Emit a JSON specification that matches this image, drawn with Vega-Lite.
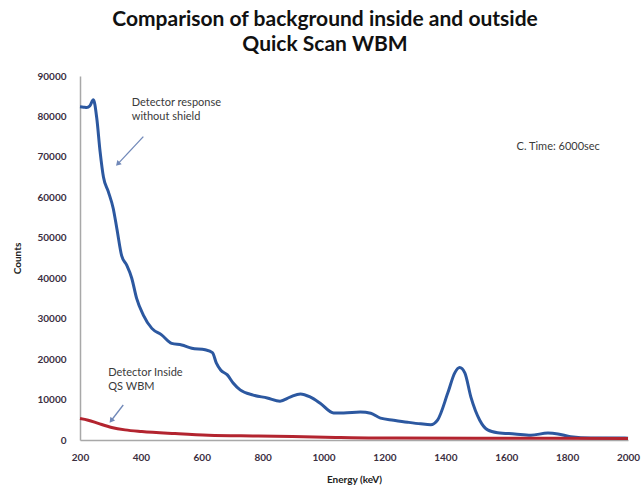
{
  "$schema": "https://vega.github.io/schema/vega-lite/v6.json",
  "autosize": "none",
  "width": 548,
  "height": 364,
  "padding": {"left": 80, "top": 76, "right": 14, "bottom": 50},
  "background": "white",
  "config": {
    "view": {"stroke": null},
    "font": "Lato"
  },
  "title": {
    "text": ["Comparison of background inside and outside", "Quick Scan WBM"],
    "font": "Lato",
    "fontSize": 21,
    "fontWeight": "bold",
    "color": "#111111",
    "anchor": "middle",
    "frame": "group",
    "dx": -29,
    "offset": 16,
    "lineHeight": 25
  },
  "datasets": {
    "spectra": [
      {"energy": 200, "counts": 82400, "series": "Without shield"},
      {"energy": 212, "counts": 82300, "series": "Without shield"},
      {"energy": 222, "counts": 82200, "series": "Without shield"},
      {"energy": 232, "counts": 82600, "series": "Without shield"},
      {"energy": 244, "counts": 84100, "series": "Without shield"},
      {"energy": 255, "counts": 79600, "series": "Without shield"},
      {"energy": 266, "counts": 71300, "series": "Without shield"},
      {"energy": 277, "counts": 65000, "series": "Without shield"},
      {"energy": 293, "counts": 61400, "series": "Without shield"},
      {"energy": 309, "counts": 57300, "series": "Without shield"},
      {"energy": 321, "counts": 52300, "series": "Without shield"},
      {"energy": 337, "counts": 45500, "series": "Without shield"},
      {"energy": 353, "counts": 43300, "series": "Without shield"},
      {"energy": 370, "counts": 40000, "series": "Without shield"},
      {"energy": 386, "counts": 35000, "series": "Without shield"},
      {"energy": 408, "counts": 30900, "series": "Without shield"},
      {"energy": 436, "counts": 27600, "series": "Without shield"},
      {"energy": 468, "counts": 26000, "series": "Without shield"},
      {"energy": 501, "counts": 23900, "series": "Without shield"},
      {"energy": 534, "counts": 23500, "series": "Without shield"},
      {"energy": 567, "counts": 22700, "series": "Without shield"},
      {"energy": 611, "counts": 22300, "series": "Without shield"},
      {"energy": 635, "counts": 21600, "series": "Without shield"},
      {"energy": 648, "counts": 19000, "series": "Without shield"},
      {"energy": 662, "counts": 17300, "series": "Without shield"},
      {"energy": 684, "counts": 16100, "series": "Without shield"},
      {"energy": 703, "counts": 14100, "series": "Without shield"},
      {"energy": 726, "counts": 12400, "series": "Without shield"},
      {"energy": 769, "counts": 11100, "series": "Without shield"},
      {"energy": 815, "counts": 10400, "series": "Without shield"},
      {"energy": 857, "counts": 9600, "series": "Without shield"},
      {"energy": 890, "counts": 10600, "series": "Without shield"},
      {"energy": 924, "counts": 11400, "series": "Without shield"},
      {"energy": 957, "counts": 10600, "series": "Without shield"},
      {"energy": 989, "counts": 9100, "series": "Without shield"},
      {"energy": 1033, "counts": 6700, "series": "Without shield"},
      {"energy": 1066, "counts": 6700, "series": "Without shield"},
      {"energy": 1121, "counts": 6900, "series": "Without shield"},
      {"energy": 1155, "counts": 6600, "series": "Without shield"},
      {"energy": 1187, "counts": 5400, "series": "Without shield"},
      {"energy": 1230, "counts": 4900, "series": "Without shield"},
      {"energy": 1276, "counts": 4400, "series": "Without shield"},
      {"energy": 1319, "counts": 4000, "series": "Without shield"},
      {"energy": 1352, "counts": 3800, "series": "Without shield"},
      {"energy": 1375, "counts": 5000, "series": "Without shield"},
      {"energy": 1408, "counts": 11600, "series": "Without shield"},
      {"energy": 1431, "counts": 16600, "series": "Without shield"},
      {"energy": 1447, "counts": 17900, "series": "Without shield"},
      {"energy": 1464, "counts": 16600, "series": "Without shield"},
      {"energy": 1484, "counts": 10600, "series": "Without shield"},
      {"energy": 1513, "counts": 4900, "series": "Without shield"},
      {"energy": 1539, "counts": 2500, "series": "Without shield"},
      {"energy": 1572, "counts": 1800, "series": "Without shield"},
      {"energy": 1628, "counts": 1500, "series": "Without shield"},
      {"energy": 1681, "counts": 1200, "series": "Without shield"},
      {"energy": 1737, "counts": 1700, "series": "Without shield"},
      {"energy": 1770, "counts": 1500, "series": "Without shield"},
      {"energy": 1812, "counts": 800, "series": "Without shield"},
      {"energy": 1878, "counts": 500, "series": "Without shield"},
      {"energy": 1990, "counts": 500, "series": "Without shield"},
      {"energy": 2000, "counts": 450, "series": "Without shield"},
      {"energy": 200, "counts": 5300, "series": "Inside QS WBM"},
      {"energy": 227, "counts": 4900, "series": "Inside QS WBM"},
      {"energy": 260, "counts": 4100, "series": "Inside QS WBM"},
      {"energy": 304, "counts": 3100, "series": "Inside QS WBM"},
      {"energy": 348, "counts": 2500, "series": "Inside QS WBM"},
      {"energy": 403, "counts": 2100, "series": "Inside QS WBM"},
      {"energy": 512, "counts": 1600, "series": "Inside QS WBM"},
      {"energy": 622, "counts": 1200, "series": "Inside QS WBM"},
      {"energy": 786, "counts": 1000, "series": "Inside QS WBM"},
      {"energy": 1005, "counts": 700, "series": "Inside QS WBM"},
      {"energy": 1169, "counts": 500, "series": "Inside QS WBM"},
      {"energy": 1500, "counts": 450, "series": "Inside QS WBM"},
      {"energy": 2000, "counts": 400, "series": "Inside QS WBM"}
    ],
    "notes": [
      {"energy": 370, "counts": 84900, "label": "Detector response\nwithout shield"},
      {"energy": 1634, "counts": 73900, "label": "C. Time: 6000sec"},
      {"energy": 293, "counts": 18100, "label": "Detector Inside\nQS WBM"}
    ],
    "arrows": [
      {"energy": 408, "counts": 75000, "energy2": 326, "counts2": 68400},
      {"energy": 342, "counts": 8650, "energy2": 304, "counts2": 4950}
    ]
  },
  "layer": [
    {
      "data": {"name": "spectra"},
      "mark": {"type": "line", "strokeWidth": 3, "interpolate": "monotone", "strokeJoin": "round"},
      "encoding": {
        "x": {
          "field": "energy", "type": "quantitative",
          "scale": {"domain": [200, 2000], "nice": false, "zero": false},
          "axis": {
            "title": "Energy (keV)",
            "values": [200, 400, 600, 800, 1000, 1200, 1400, 1600, 1800, 2000],
            "format": "d",
            "grid": false, "ticks": false, "labelFlush": false,
            "domainColor": "#a8a8a8", "domainWidth": 1.5,
            "labelFont": "Lato", "labelFontSize": 10, "labelFontWeight": "bold",
            "labelColor": "#3b2f3f", "labelPadding": 12,
            "titleFont": "Lato", "titleFontSize": 10, "titleFontWeight": "bold",
            "titleColor": "#222222", "titlePadding": 12
          }
        },
        "y": {
          "field": "counts", "type": "quantitative",
          "scale": {"domain": [0, 90000], "nice": false},
          "axis": {
            "title": "Counts",
            "values": [0, 10000, 20000, 30000, 40000, 50000, 60000, 70000, 80000, 90000],
            "format": "d",
            "grid": false, "ticks": false, "labelFlush": false,
            "domainColor": "#a8a8a8", "domainWidth": 1.5,
            "labelFont": "Lato", "labelFontSize": 10, "labelFontWeight": "bold",
            "labelColor": "#3b2f3f", "labelPadding": 14,
            "titleFont": "Lato", "titleFontSize": 10, "titleFontWeight": "bold",
            "titleColor": "#222222", "titlePadding": 14
          }
        },
        "color": {
          "field": "series", "type": "nominal",
          "scale": {"domain": ["Without shield", "Inside QS WBM"], "range": ["#2c58a0", "#b3242f"]},
          "legend": null
        },
        "order": {"field": "energy", "type": "quantitative"}
      }
    },
    {
      "data": {"name": "arrows"},
      "mark": {"type": "rule", "color": "#7088b8", "strokeWidth": 1.3},
      "encoding": {
        "x": {"field": "energy", "type": "quantitative"},
        "y": {"field": "counts", "type": "quantitative"},
        "x2": {"field": "energy2"},
        "y2": {"field": "counts2"}
      }
    },
    {
      "data": {"name": "arrows"},
      "transform": [{"filter": "datum.counts > 50000"}],
      "mark": {"type": "point", "shape": "triangle", "filled": true, "color": "#7088b8", "size": 35, "angle": 223, "opacity": 1},
      "encoding": {
        "x": {"field": "energy2", "type": "quantitative"},
        "y": {"field": "counts2", "type": "quantitative"}
      }
    },
    {
      "data": {"name": "arrows"},
      "transform": [{"filter": "datum.counts < 50000"}],
      "mark": {"type": "point", "shape": "triangle", "filled": true, "color": "#7088b8", "size": 35, "angle": 218, "opacity": 1},
      "encoding": {
        "x": {"field": "energy2", "type": "quantitative"},
        "y": {"field": "counts2", "type": "quantitative"}
      }
    },
    {
      "data": {"name": "notes"},
      "mark": {"type": "text", "align": "left", "baseline": "top", "font": "Lato", "fontSize": 11, "lineHeight": 14, "lineBreak": "\n", "color": "#3a3a3a"},
      "encoding": {
        "x": {"field": "energy", "type": "quantitative"},
        "y": {"field": "counts", "type": "quantitative"},
        "text": {"field": "label"}
      }
    }
  ]
}
